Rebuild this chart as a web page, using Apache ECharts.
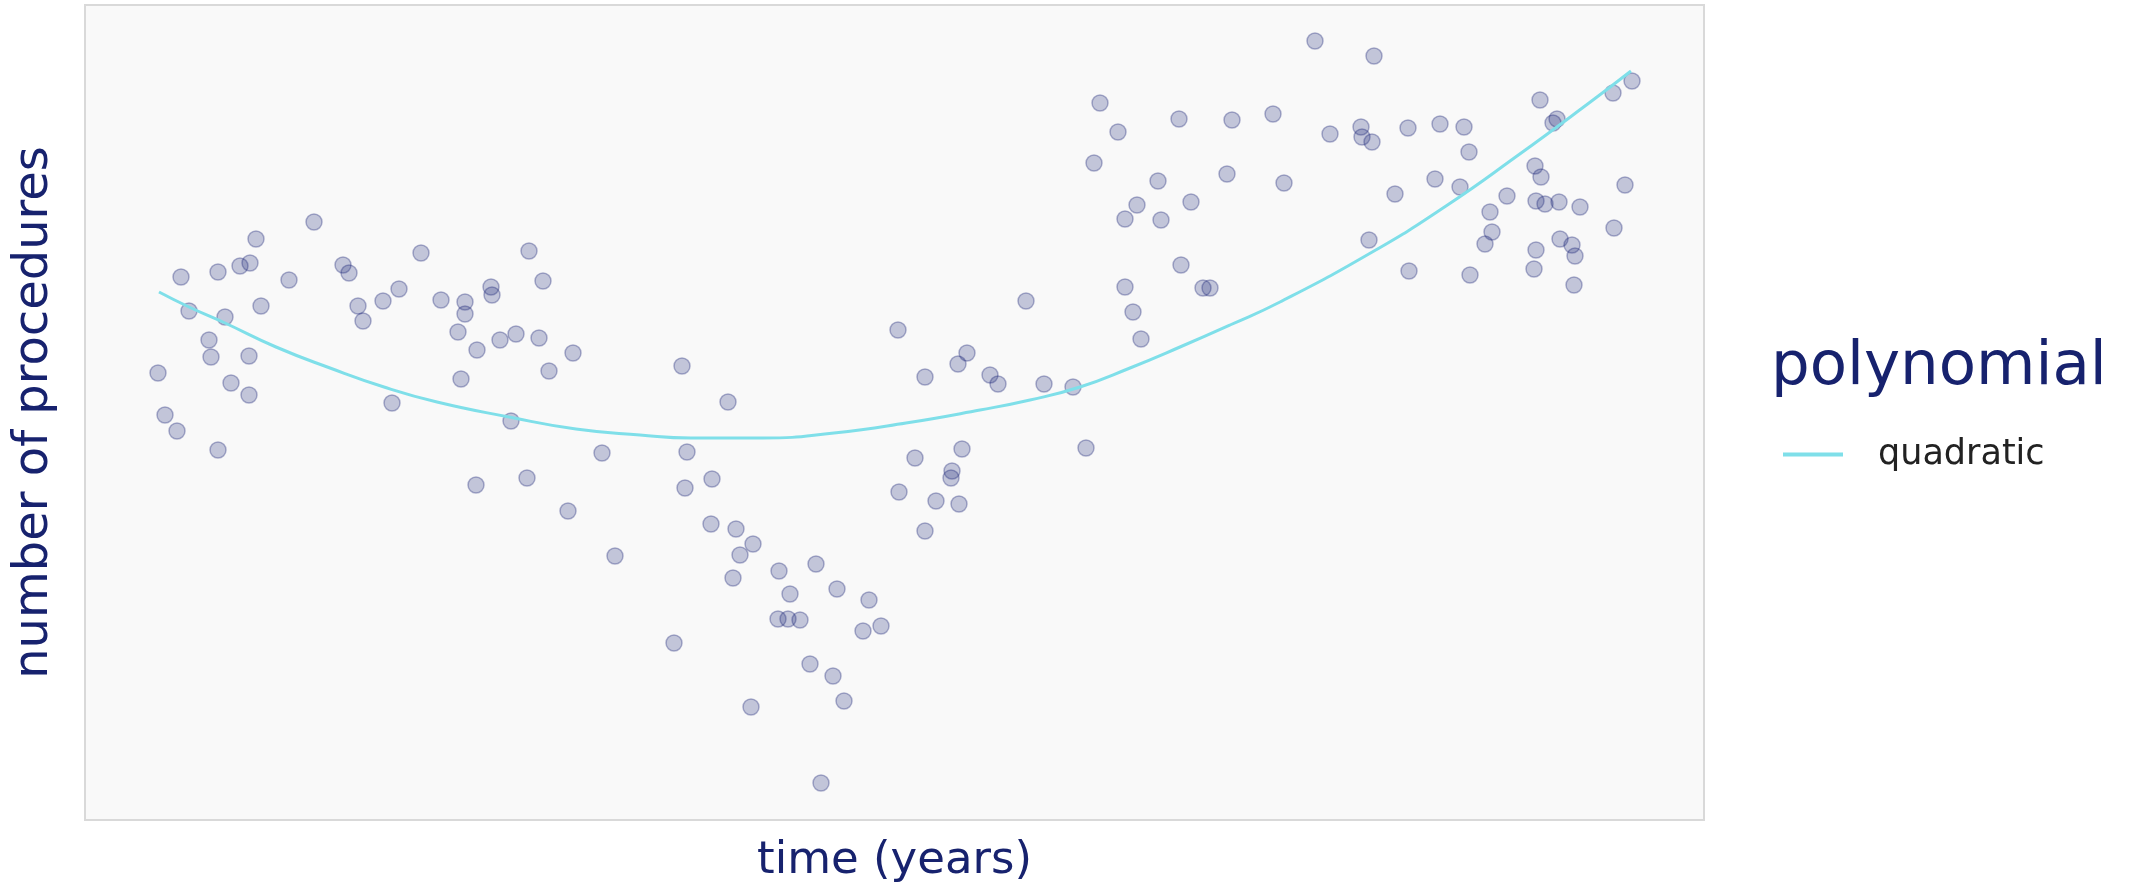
<!DOCTYPE html>
<html>
<head>
<meta charset="utf-8">
<script src="https://cdn.jsdelivr.net/npm/echarts@6/dist/echarts.min.js"></script>
<style>
    html, body {
        margin: 0;
        padding: 0;
        background: #fff;
    }

    #chart {
        width: 2136px;
        height: 889px;
    }
</style>
</head>
<body>
<div id="chart"></div>

<script>
    var timeYears = [
        22.9, 17.1, 15.5, 16.5, 9.6, 13.3, 20.4, 25.8, 26.4, 33.6, 44.4, 45.8, 31.4, 29.8, 27.3, 27.8,
        35.6, 38.0, 38.0, 40.6, 40.7, 10.4, 14.0, 17.6, 12.4, 12.6, 16.4, 7.3, 14.6, 16.4, 8.0, 37.3,
        39.2, 41.5, 43.1, 45.4, 48.8, 46.4, 37.6, 30.7, 42.6, 9.2, 13.3, 51.7, 44.2, 39.1, 48.3, 53.0,
        59.7, 64.3, 60.2, 62.7, 60.0, 62.6, 65.1, 66.8, 65.5, 64.8, 69.4, 73.1, 70.5, 75.2, 78.4, 69.3,
        70.3, 71.5, 79.6, 77.8, 58.9, 72.5, 74.8, 75.9, 66.6, 73.6,
        81.3, 88.2, 87.3, 90.5, 91.3, 95.9, 98.8, 84.0, 94.1, 83.0, 87.7, 86.7, 86.6, 81.4, 85.1, 87.4,
        84.0, 100.1,
        101.5, 103.3, 100.9, 107.3, 105.2, 104.0, 107.6, 109.4, 109.6, 104.0, 104.8, 105.6, 110.6, 111.8,
        112.5, 114.7, 114.2, 118.8, 119.9, 123.0, 124.5, 127.6, 127.7, 128.7, 128.9, 128.4, 131.0, 132.3,
        132.4, 135.0, 135.5, 137.5, 137.9, 138.4, 138.5, 140.0, 140.5, 140.7, 142.2, 144.9, 145.0, 145.1,
        145.1, 145.6, 146.0, 145.5, 147.2, 146.8, 147.4, 147.5, 148.7, 149.0, 148.9, 149.5, 152.8, 152.9,
        154.0, 154.7
    ];
    var procedures = [
        59.8, 58.1, 55.4, 55.7, 54.3, 54.8, 54.0, 55.5, 54.7, 56.7, 56.9, 53.9, 53.1, 51.9, 51.4, 49.9,
        52.0, 51.8, 50.6, 53.3, 52.5, 50.9, 50.3, 51.4, 48.0, 46.3, 46.4, 44.7, 43.7, 42.5, 40.5, 48.8,
        47.0, 48.0, 48.6, 48.2, 46.7, 44.9, 44.1, 41.7, 39.9, 38.9, 37.0, 36.7, 34.2, 33.5, 30.9, 26.4,
        45.4, 41.8, 36.8, 34.1, 33.2, 29.6, 29.1, 27.6, 26.5, 24.2, 24.9, 25.6, 22.6, 23.1, 22.0, 20.1,
        20.1, 20.0, 19.4, 18.9, 17.7, 15.6, 14.4, 11.9, 11.3, 3.7,
        49.0, 46.7, 45.6, 44.5, 43.6, 43.6, 43.3, 44.3, 51.9, 36.2, 37.1, 34.9, 34.2, 32.8, 31.9, 31.6,
        28.9, 37.2,
        71.7, 68.8, 65.7, 63.9, 61.5, 60.1, 60.0, 70.1, 55.5, 53.3, 50.8, 48.1, 61.8, 53.2,
        53.2, 70.0, 64.6, 70.6, 63.7, 77.9, 68.6, 69.3, 68.3, 67.8, 76.4, 58.0, 62.6, 69.2,
        54.9, 64.1, 69.6, 63.3, 69.3, 66.8, 54.5, 57.6, 60.8, 58.8, 62.4, 55.1, 65.4, 57.0,
        61.9, 64.3, 61.6, 72.0, 70.1, 69.7, 61.8, 58.1, 57.5, 56.4, 53.5, 61.3, 72.7, 59.2,
        63.5, 73.9
    ];

    // quadratic fit curve
    var fitTime = [7.4, 10.4, 14.0, 19.1, 24.5, 29.9, 35.2, 42.4, 49.1, 55.5, 60.6, 67.8, 74.9,
        82.1, 89.5, 94.5, 99.5, 104.5, 109.5, 114.5, 119.5, 128.9, 136.1, 143.2, 150.4, 154.6];
    var fitValues = [52.8, 51.3, 49.7, 47.3, 45.2, 43.3, 41.8, 40.3, 39.1, 38.5, 38.2, 38.2, 38.7,
        39.7, 41.0, 42.0, 43.3, 45.2, 47.3, 49.5, 51.8, 56.9, 61.4, 66.4, 71.7, 74.9];

    var fontName = '"DejaVu Sans", "Open Sans", sans-serif';
    var navy = '#17226e';

    var scatterData = timeYears.map(function (t, i) {
        return [t, procedures[i]];
    });
    var fitData = fitTime.map(function (t, i) {
        return [t, fitValues[i]];
    });

    var myChart = echarts.init(document.getElementById('chart'));
    var option = {
        backgroundColor: '#ffffff',
        animation: false,
        title: {
            text: 'polynomial',
            left: 1766,
            top: 333,
            textStyle: {
                color: navy,
                fontFamily: fontName,
                fontWeight: 'normal',
                fontSize: 61
            }
        },
        legend: {
            data: [{ name: 'quadratic', icon: 'rect' }],
            left: 1778,
            top: 432,
            itemWidth: 60,
            itemHeight: 4,
            textStyle: {
                color: '#222222',
                fontFamily: fontName,
                fontSize: 35,
                padding: [0, 0, 0, 30]
            }
        },
        grid: {
            left: 85,
            top: 5,
            width: 1619,
            height: 815,
            show: true,
            backgroundColor: '#f9f9f9',
            borderColor: '#d9d9d9',
            borderWidth: 2
        },
        xAxis: {
            type: 'value',
            min: 0,
            max: 161.9,
            name: 'time (years)',
            nameLocation: 'middle',
            nameGap: 19,
            nameTextStyle: {
                color: navy,
                fontFamily: fontName,
                fontSize: 45
            },
            axisLine: { show: false },
            axisTick: { show: false },
            axisLabel: { show: false },
            splitLine: { show: false }
        },
        yAxis: {
            type: 'value',
            min: 0,
            max: 81.5,
            name: 'number of procedures',
            nameLocation: 'middle',
            nameGap: 26,
            nameTextStyle: {
                color: navy,
                fontFamily: fontName,
                fontSize: 48
            },
            axisLine: { show: false },
            axisTick: { show: false },
            axisLabel: { show: false },
            splitLine: { show: false }
        },
        series: [{
            name: 'observed',
            type: 'scatter',
            symbolSize: 16,
            data: scatterData,
            itemStyle: {
                color: 'rgba(26, 36, 120, 0.3)',
                borderColor: 'rgba(26, 36, 120, 0.42)',
                borderWidth: 1.5
            },
            z: 2
        }, {
            name: 'quadratic',
            type: 'line',
            smooth: true,
            symbol: 'none',
            data: fitData,
            lineStyle: {
                color: '#7fdfe9',
                width: 3
            },
            itemStyle: {
                color: '#7fdfe9'
            },
            z: 3
        }]
    };
    myChart.setOption(option);
</script>
</body>
</html>
